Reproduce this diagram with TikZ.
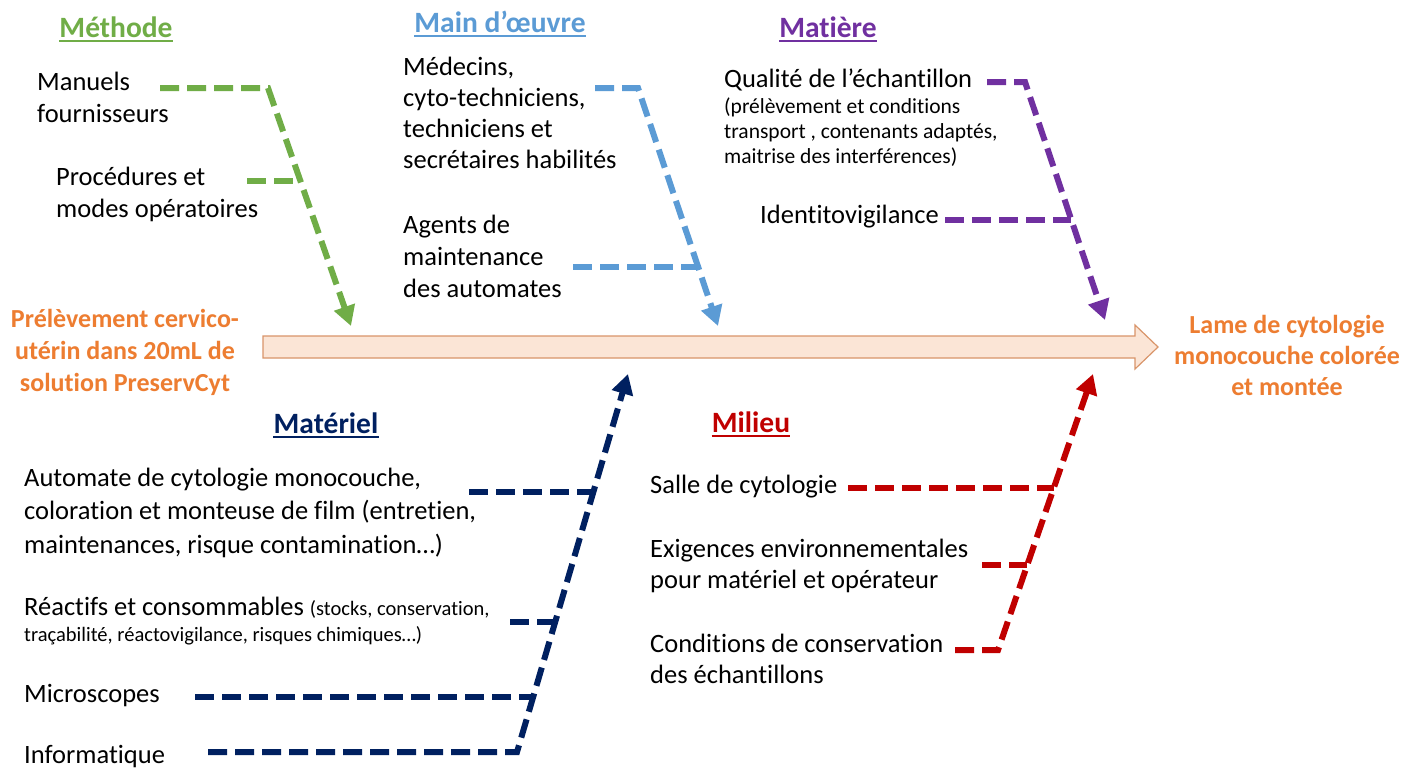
\documentclass[tikz,border=0pt]{standalone}
\usepackage{fontspec}
\setmainfont{Carlito}[Ligatures=NoCommon]
\usetikzlibrary{arrows.meta,calc}
\definecolor{cgreen}{HTML}{70AD47}
\definecolor{cblue}{HTML}{5B9BD5}
\definecolor{cpurple}{HTML}{7030A0}
\definecolor{cnavy}{HTML}{002060}
\definecolor{cred}{HTML}{C00000}
\definecolor{corange}{HTML}{ED7D31}
\definecolor{spinefill}{HTML}{FBE5D6}
\definecolor{spinedraw}{HTML}{D9956A}
\begin{document}
\begin{tikzpicture}[x=1pt,y=-1pt,
  bone/.style={line width=6pt, dash pattern=on 19pt off 8pt},
  tipbone/.style={bone, -{Triangle[length=20pt,width=21pt]}},
  body/.style={font=\fontsize{26.5}{32}\selectfont, align=left, inner sep=0pt, anchor=base west},
  small/.style={font=\fontsize{21.5}{25}\selectfont, align=left, inner sep=0pt, anchor=base west},
  title/.style={font=\bfseries\fontsize{29.5}{34}\selectfont, inner sep=0pt, anchor=base},
  endtext/.style={font=\bfseries\fontsize{26}{32}\selectfont, align=center, inner sep=0pt, anchor=base, text=corange},
  uline/.style={line width=2pt}]
\fill[white] (0,0) rectangle (1420,769);
\useasboundingbox (0,0) rectangle (1420,769);

% spine
\draw[draw=spinedraw, fill=spinefill, line width=1.2pt]
  (263,336) -- (1135,336) -- (1135,325) -- (1158,347) -- (1135,369) -- (1135,358) -- (263,358) -- cycle;

% end texts (anchor = baseline of last line)
\node[endtext] (source) at (125,391) {Prélèvement cervico-\\utérin dans 20mL de\\solution PreservCyt};
\node[endtext, font=\bfseries\fontsize{26}{31}\selectfont] (result) at (1287,395) {Lame de cytologie\\monocouche colorée\\et montée};

% titles
\node[title, text=cgreen] (tMethode) at (116,37) {Méthode};
\draw[uline, cgreen] ([yshift=-4pt]tMethode.base west) -- ([yshift=-4pt]tMethode.base east);
\node[title, text=cblue] (tMain) at (500,32) {Main d’œuvre};
\draw[uline, cblue] ([yshift=-4pt]tMain.base west) -- ([yshift=-4pt]tMain.base east);
\node[title, text=cpurple] (tMatiere) at (828,37) {Matière};
\draw[uline, cpurple] ([yshift=-4pt]tMatiere.base west) -- ([yshift=-4pt]tMatiere.base east);
\node[title, text=cnavy] (tMateriel) at (326,433) {Matériel};
\draw[uline, cnavy] ([yshift=-4pt]tMateriel.base west) -- ([yshift=-4pt]tMateriel.base east);
\node[title, text=cred] (tMilieu) at (751,432) {Milieu};
\draw[uline, cred] ([yshift=-4pt]tMilieu.base west) -- ([yshift=-4pt]tMilieu.base east);

% Méthode
\node[body] (manuels) at (37,122) {Manuels\\fournisseurs};
\node[body] (proc) at (56,217) {Procédures et\\modes opératoires};
\coordinate (gS1) at (160,88);
\coordinate (gC) at (268,88);
\coordinate (gT) at (351,326);
\coordinate (gS2) at (247,181);
\coordinate (gB2) at (299,181);
\draw[tipbone, cgreen] (gS1) -- (gC) -- (gT);
\draw[bone, cgreen] (gS2) -- (gB2);

% Main d'oeuvre
\node[body, font=\fontsize{26.5}{31}\selectfont] (medecins) at (403,168) {Médecins,\\cyto-techniciens,\\techniciens et\\secrétaires habilités};
\node[body] (agents) at (403,297) {Agents de\\maintenance\\des automates};
\coordinate (bS1) at (595,88);
\coordinate (bC) at (638,88);
\coordinate (bT) at (718,326);
\coordinate (bS2) at (573,267);
\coordinate (bB2) at (698,267);
\draw[tipbone, cblue] (bS1) -- (bC) -- (bT);
\draw[bone, cblue] (bS2) -- (bB2);

% Matière
\node[body] (qualite) at (724,87) {Qualité de l’échantillon};
\node[small] (qualdet) at (724,163) {(prélèvement et conditions\\transport , contenants adaptés,\\maitrise des interférences)};
\node[body] (identito) at (760,223) {Identitovigilance};
\coordinate (pS1) at (987,82);
\coordinate (pC) at (1025,82);
\coordinate (pT) at (1105,320);
\coordinate (pS2) at (945,220);
\coordinate (pB2) at (1071,220);
\draw[tipbone, cpurple] (pS1) -- (pC) -- (pT);
\draw[bone, cpurple] (pS2) -- (pB2);

% Matériel
\node[body, font=\fontsize{26.5}{33.5}\selectfont] (automate) at (24,553) {Automate de cytologie monocouche,\\coloration et monteuse de film (entretien,\\maintenances, risque contamination…)};
\node[body] (reactifs) at (24,615) {Réactifs et consommables {\fontsize{20.5}{24}\selectfont (stocks, conservation,}};
\node[small, font=\fontsize{20.5}{24}\selectfont] (reacdet) at (24,641) {traçabilité, réactovigilance, risques chimiques…)};
\node[body] (micro) at (24,702) {Microscopes};
\node[body] (info) at (24,763) {Informatique};
\coordinate (nS1) at (208,752);
\coordinate (nC) at (517,752);
\coordinate (nT) at (628,374);
\coordinate (nS2) at (469,492);
\coordinate (nB2) at (593,492);
\coordinate (nS3) at (510,622);
\coordinate (nB3) at (555,622);
\coordinate (nS4) at (195,697);
\coordinate (nB4) at (533,697);
\draw[tipbone, cnavy] (nS1) -- (nC) -- (nT);
\draw[bone, cnavy] (nS2) -- (nB2);
\draw[bone, cnavy] (nS3) -- (nB3);
\draw[bone, cnavy] (nS4) -- (nB4);

% Milieu
\node[body] (salle) at (650,493) {Salle de cytologie};
\node[body, font=\fontsize{26.5}{31}\selectfont] (exig) at (650,588) {Exigences environnementales\\pour matériel et opérateur};
\node[body, font=\fontsize{26.5}{31}\selectfont] (cond) at (650,683) {Conditions de conservation\\des échantillons};
\coordinate (rS1) at (955,650);
\coordinate (rC) at (998,650);
\coordinate (rT) at (1093,374);
\coordinate (rS2) at (982,565);
\coordinate (rB2) at (1027,565);
\coordinate (rS3) at (848,488);
\coordinate (rB3) at (1054,488);
\draw[tipbone, cred] (rS1) -- (rC) -- (rT);
\draw[bone, cred] (rS2) -- (rB2);
\draw[bone, cred] (rS3) -- (rB3);
\end{tikzpicture}
\end{document}
